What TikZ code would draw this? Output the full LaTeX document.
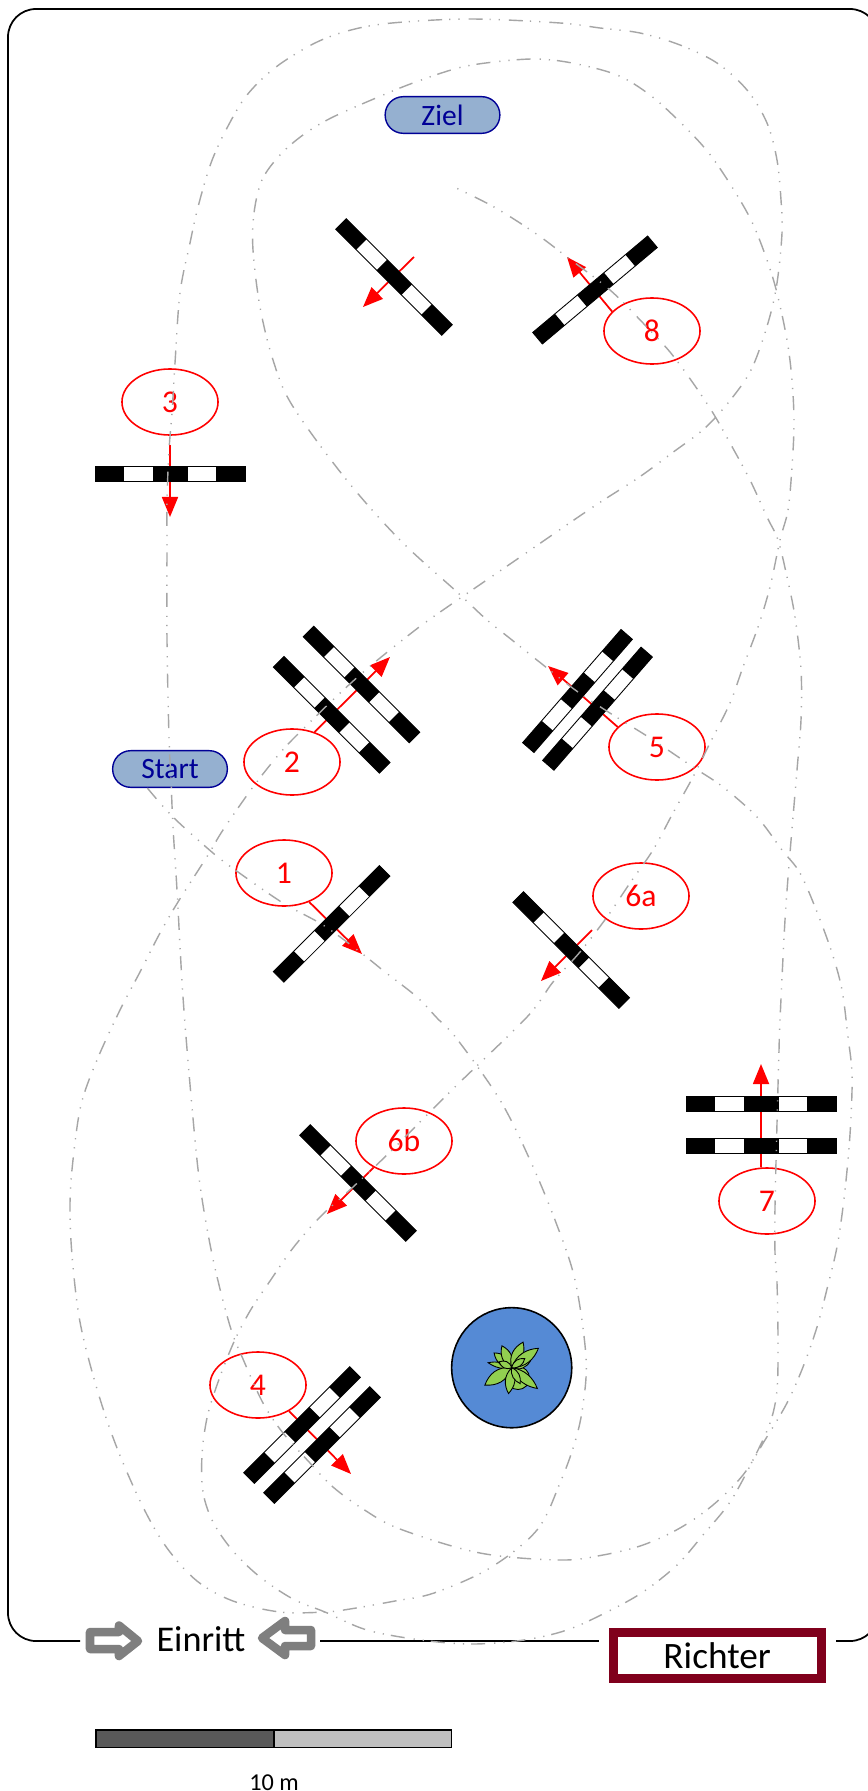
\documentclass[tikz,border=0pt]{standalone}
\usepackage{fontspec}
\setmainfont{Carlito}
\definecolor{routegray}{RGB}{166, 166, 166}
\definecolor{pilotblue}{RGB}{149, 176, 208}
\definecolor{labelblue}{RGB}{0, 0, 150}
\definecolor{judgered}{RGB}{128, 0, 28}
\definecolor{pondblue}{RGB}{85, 138, 213}
\definecolor{leafgreen}{RGB}{146, 208, 80}
\definecolor{gategray}{RGB}{127, 127, 127}
\usetikzlibrary{shapes, arrows.meta, positioning, calc}
\tikzset{
  fencebar/.pic={
    \fill[white] (-75,-7.5) rectangle (75,7.5);
    \draw[black, line width=.25pt] (-75,-7.5) rectangle (75,7.5);
    \fill[black] (-75,-7.5) rectangle (-46,7.5);
    \fill[black] (-17,-7.5) rectangle (18,7.5);
    \fill[black] (46,-7.5) rectangle (75,7.5);
  },
  jumpnum/.style={ellipse, draw=red, line width=.45pt, text=red, font=\fontsize{9}{10}\selectfont, minimum width=.96cm, minimum height=.66cm, inner sep=0pt},
  jumparrow/.style={draw=red, line width=.5pt, -{Triangle[length=.2cm, width=.16cm]}},
  pill/.style={draw=labelblue, line width=.4pt, fill=pilotblue, text=labelblue, rounded corners=.18cm, minimum width=1.146cm, minimum height=.366cm, inner sep=0pt, font=\fontsize{8.4}{10}\selectfont},
  route/.style={routegray, line width=.4pt, dash pattern=on .14cm off .09cm on .012cm off .08cm on .012cm off .07cm},
  plantleaf/.style={fill=leafgreen, draw=black, line width=.25pt},
  gatearrow/.style={draw=gategray, fill=white, line width=.085cm, line join=round}
}
\newcommand{\plantleaf}[3]{%
  \filldraw[plantleaf, shift={(511.7,1367.7)}, rotate=#1] (0,0) .. controls (.35*#2,#3) and (.7*#2,.8*#3) .. (#2,0) .. controls (.7*#2,-.8*#3) and (.35*#2,-#3) .. (0,0) -- cycle;}
\begin{document}
\begin{tikzpicture}[x=.01cm, y=-.01cm]
  \clip (0,0) rectangle (868,1791);
  \fill[white] (0,0) rectangle (868,1791);
  \draw[black, line width=.5pt, rounded corners=.28cm] (80,1641) -- (8,1641) -- (8,9) -- (878,9) -- (878,1641) -- (836,1641);
  \draw[black, line width=.5pt] (320,1641) -- (599,1641);

  \node[jumpnum] (num1) at (284,873) {1};
  \node[jumpnum] (num2) at (292,762) {2};
  \node[jumpnum] (num3) at (170,402) {3};
  \node[jumpnum] (num4) at (258,1385) {4};
  \node[jumpnum] (num5) at (657,747) {5};
  \node[jumpnum] (num6a) at (641,896) {6a};
  \node[jumpnum] (num6b) at (404,1141) {6b};
  \node[jumpnum] (num7) at (767,1201) {7};
  \node[jumpnum] (num8) at (652,331) {8};

  \coordinate (tail0) at (414,257);
  \coordinate (tip0) at (363,307);
  \coordinate (tip1) at (362,954);
  \coordinate (tip2) at (390,657);
  \coordinate (tail3) at (170,445);
  \coordinate (tip3) at (170,517);
  \coordinate (tip4) at (351,1474);
  \coordinate (tip5) at (548,666);
  \coordinate (tail6a) at (592,930);
  \coordinate (tip6a) at (541,981);
  \coordinate (tip6b) at (327,1214);
  \coordinate (tip7) at (761,1064);
  \coordinate (tip8) at (567,257);

  \draw[jumparrow] (tail0) -- (tip0);
  \draw[jumparrow] (num1.311) -- (tip1);
  \draw[jumparrow] (num2.53) -- (tip2);
  \draw[jumparrow] (tail3) -- (tip3);
  \draw[jumparrow] (num4.320) -- (tip4);
  \draw[jumparrow] (num5.153) -- (tip5);
  \draw[jumparrow] (tail6a) -- (tip6a);
  \draw[jumparrow] (num6b.221) -- (tip6b);
  \draw[jumparrow] (num7.100) -- (tip7);
  \draw[jumparrow] (num8.154) -- (tip8);

  \pic[rotate=-45] (fenceA) at (394,277) {fencebar};
  \pic[rotate=40] (fenceB) at (595,290) {fencebar};
  \pic (fenceC) at (170,473.5) {fencebar};
  \pic[rotate=-45] (fenceD) at (361.5,684.5) {fencebar};
  \pic[rotate=-45] (fenceE) at (331.7,714.8) {fencebar};
  \pic[rotate=49] (fenceF) at (577.5,691) {fencebar};
  \pic[rotate=49] (fenceG) at (597.5,708.7) {fencebar};
  \pic[rotate=45] (fenceH) at (331.6,923.9) {fencebar};
  \pic[rotate=-45] (fenceI) at (571.2,950) {fencebar};
  \pic[rotate=-45] (fenceJ) at (358,1183) {fencebar};
  \pic (fenceK) at (761,1103.5) {fencebar};
  \pic (fenceL) at (761,1146) {fencebar};
  \pic[rotate=45] (fenceM) at (302,1425) {fencebar};
  \pic[rotate=45] (fenceN) at (322,1445) {fencebar};

  \node[circle, draw=black, line width=.45pt, fill=pondblue, minimum size=1.2cm, inner sep=0pt] (pond) at (511.7,1367.7) {};
  \filldraw[plantleaf] (518,1378) circle (11.5);
  \plantleaf{20}{20}{6}
  \plantleaf{168}{24}{4}
  \plantleaf{140}{23}{7}
  \plantleaf{114}{24}{7}
  \plantleaf{66}{28}{8}
  \plantleaf{36}{33}{8}
  \plantleaf{213}{32}{9}
  \plantleaf{263}{26}{7}
  \plantleaf{321}{33}{7}
  \plantleaf{298}{18}{5}
  \plantleaf{35}{16}{5}
  \plantleaf{155}{14}{5}

  \node[pill] (startbox) at (170,769) {Start};
  \node[pill] (zielbox) at (442.5,115) {Ziel};

  \node[draw=judgered, line width=.09cm, minimum width=2.075cm, minimum height=.46cm, inner sep=0pt, font=\fontsize{10.6}{12}\selectfont] (richter) at (717.2,1655.5) {Richter};
  \node[font=\fontsize{10.3}{12}\selectfont] (einritt) at (201,1639) {Einritt};
  \draw[gatearrow] (90,1632) -- (119,1632) -- (119,1625.5) -- (138,1641) -- (119,1656) -- (119,1649) -- (90,1649) -- cycle;
  \draw[gatearrow] (311,1630) -- (285,1630) -- (285,1621) -- (262,1638) -- (285,1655) -- (285,1646) -- (311,1646) -- cycle;

  \filldraw[fill=black!65, draw=black, line width=.35pt] (96,1730) rectangle (274,1747.5);
  \filldraw[fill=black!25, draw=black, line width=.35pt] (274,1730) rectangle (451.5,1747.5);
  \node[anchor=base, font=\fontsize{6.9}{8}\selectfont] (scalelabel) at (274,1790) {10 m};

  \coordinate (routeend) at (454,187);
  \draw[route] plot[smooth, tension=.55] coordinates {(startbox.220) (173,817) (213,853) (238,872) (283,903) (323,925) (360,952) (385,972) (417,997) (437,1018) (457,1039) (500,1100) (530,1160) (555,1220) (575,1280) (586,1357) (583,1405) (575,1442) (560,1483) (537,1530) (490,1568) (434,1593) (395,1601) (350,1609) (325,1612) (280,1612) (233,1601) (197,1581) (167,1548) (143,1507) (117,1448) (97,1389) (80,1322) (72,1255) (70,1204) (73,1160) (81,1105) (97,1060) (120,1010) (140,972) (160,933) (178,902) (208,855) (223,830) (253,787) (280,753) (300,732) (338,695) (368,668) (400,642) (433,617) (513,562) (593,507) (638,478) (672,453) (705,428) (732,398) (752,368) (768,323) (777,283) (782,233) (781,200) (777,160) (767,123) (747,90) (717,63) (680,45) (640,33) (600,28) (560,23) (470,19) (392,23) (351,30) (315,43) (276,67) (247,95) (227,128) (211,163) (198,207) (190,243) (180,293) (175,363) (172,413) (169,450) (167,500) (167,540) (167,640) (169,737) (171,780) (173,827) (177,890) (183,997) (192,1107) (200,1185) (213,1259) (230,1326) (243,1359) (263,1403) (283,1433) (310,1463) (333,1487) (363,1509) (400,1529) (480,1553) (560,1560) (603,1555) (643,1545) (680,1528) (713,1505) (743,1475) (765,1440) (787,1403) (803,1367) (817,1327) (828,1285) (837,1247) (843,1207) (848,1160) (851,1117) (852,1073) (848,1037) (842,990) (832,953) (817,912) (800,873) (782,850) (757,817) (723,787) (693,767) (650,738) (613,715) (578,692) (547,668) (512,640) (487,620) (457,592) (400,540) (345,478) (292,405) (273,360) (260,307) (253,250) (254,213) (262,180) (280,155) (303,135) (331,118) (376,98) (413,83) (458,68) (494,62) (535,59) (572,63) (617,75) (650,95) (680,122) (708,152) (732,187) (752,222) (767,260) (777,293) (787,340) (792,380) (794,423) (792,467) (788,510) (780,540) (770,587) (758,627) (743,667) (730,703) (710,743) (693,777) (673,813) (653,850) (630,883) (607,917) (580,952) (553,982) (527,1017) (457,1085) (411,1131) (387,1155) (353,1187) (320,1217) (293,1248) (270,1281) (250,1311) (233,1344) (217,1385) (207,1418) (202,1455) (203,1492) (213,1522) (233,1551) (260,1577) (293,1599) (325,1612) (367,1630) (421,1640) (472,1644) (524,1640) (567,1630) (607,1612) (643,1592) (677,1565) (703,1535) (730,1502) (753,1460) (770,1423) (777,1390) (778,1340) (777,1283) (775,1253) (775,1207) (777,1123) (779,1050) (780,1020) (785,920) (790,853) (797,770) (801,720) (801,670) (795,617) (787,577) (778,540) (767,517) (750,480) (730,443) (713,413) (693,383) (670,352) (643,323) (610,290) (567,257) (535,233) (494,207) (routeend)};
\end{tikzpicture}
\end{document}
